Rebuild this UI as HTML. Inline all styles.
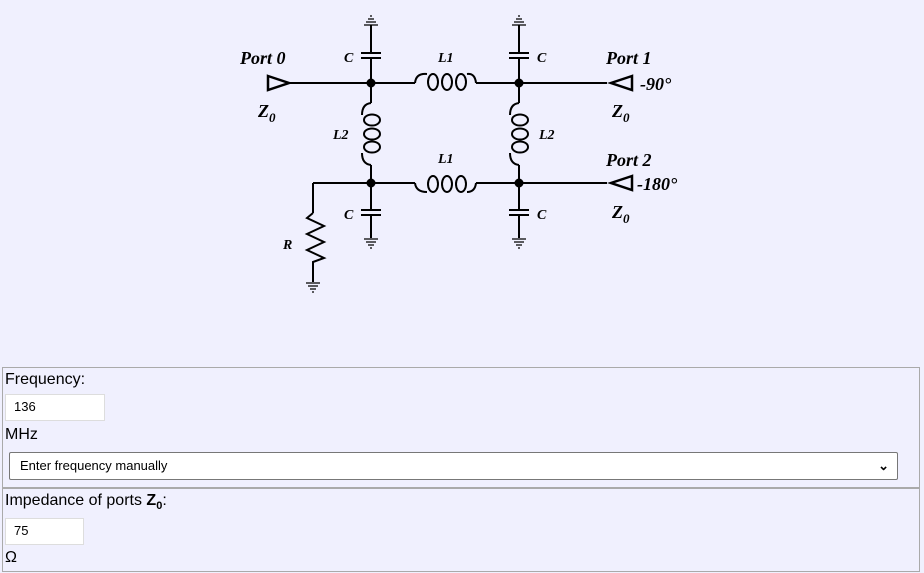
<!DOCTYPE html>
<html><head><meta charset="utf-8"><style>
body{margin:0;background:#f0f0fe;font-family:"Liberation Sans",sans-serif;width:924px;height:573px;overflow:hidden;position:relative}
.p{position:absolute;left:2px;width:916px;border:1px solid #aaa;background:#f0f0fe}
.t{position:absolute;font-size:16px;color:#000}
.in{position:absolute;background:#fff;border:1px solid #ddd;font-size:13px;padding-left:8px;box-sizing:border-box;line-height:24px}
svg text{font-family:"Liberation Serif",serif;font-style:italic;font-weight:bold}
</style></head><body>
<svg width="924" height="360" style="position:absolute;left:0;top:0" fill="none" stroke="#000" stroke-width="2">
<g stroke-width="2">
<line x1="290" y1="83" x2="415" y2="83"/><line x1="476" y1="83" x2="607" y2="83"/>
<line x1="313" y1="183" x2="415" y2="183"/><line x1="476" y1="183" x2="607" y2="183"/>
<path d="M415,83 Q416,73 427,74"/><ellipse cx="433" cy="82" rx="5" ry="8"/><ellipse cx="447" cy="82" rx="5" ry="8"/><ellipse cx="461" cy="82" rx="5" ry="8"/><path d="M467,74 Q475,73 476,83"/>
<path d="M415,183 Q416,192 427,192"/><ellipse cx="433" cy="184" rx="5" ry="8"/><ellipse cx="447" cy="184" rx="5" ry="8"/><ellipse cx="461" cy="184" rx="5" ry="8"/><path d="M467,192 Q475,192 476,183"/>
<g id="col">
<line x1="371" y1="25" x2="371" y2="53"/><line x1="361" y1="53" x2="381" y2="53"/><line x1="361" y1="58" x2="381" y2="58"/>
<line x1="371" y1="58" x2="371" y2="103"/>
<path d="M371,103 Q362,104 362,115"/><ellipse cx="372" cy="120" rx="8" ry="5.5"/><ellipse cx="372" cy="134" rx="8" ry="5.5"/><ellipse cx="372" cy="147" rx="8" ry="5.5"/><path d="M362,153 Q362,164 371,165"/>
<line x1="371" y1="165" x2="371" y2="210"/><line x1="361" y1="210" x2="381" y2="210"/><line x1="361" y1="215" x2="381" y2="215"/>
<line x1="371" y1="215" x2="371" y2="238"/>
<path d="M364,239h14M366,242h10M368,245h6M370,248h2" stroke-width="1.2"/>
<path d="M364,25h14M366,22h10M368,19h6M370,16h2" stroke-width="1.2"/>
<circle cx="371" cy="83" r="3.5" fill="#000"/><circle cx="371" cy="183" r="3.5" fill="#000"/>
</g>
<use href="#col" x="148"/>
<line x1="313" y1="183" x2="313" y2="213"/>
<path d="M313,213 L307,218 L324,226 L307,234 L324,242 L307,250 L324,258 L313,262 L313,282"/>
<path d="M306,283h14M308,286h10M310,289h6M312,292h2" stroke-width="1.2"/>
<path d="M268,76 L289,83 L268,90 Z" stroke-width="2.5"/>
<path d="M632,76 L611,83 L632,90 Z" stroke-width="2.5"/>
<path d="M632,176 L611,183 L632,190 Z" stroke-width="2.5"/>
</g>
<g fill="#000" stroke="none" font-size="18">
<text x="240" y="64">Port 0</text><text x="606" y="64">Port 1</text><text x="606" y="166">Port 2</text>
<text x="640" y="90">-90°</text><text x="637" y="190">-180°</text>
<text x="258" y="117">Z<tspan font-size="13" dy="5">0</tspan></text>
<text x="612" y="117">Z<tspan font-size="13" dy="5">0</tspan></text>
<text x="612" y="218">Z<tspan font-size="13" dy="5">0</tspan></text>
<g font-size="14"><text x="344" y="62">C</text><text x="537" y="62">C</text><text x="344" y="219">C</text><text x="537" y="219">C</text>
<text x="438" y="62">L1</text><text x="438" y="163">L1</text><text x="333" y="139">L2</text><text x="539" y="139">L2</text><text x="283" y="249">R</text></g>
</g>
</svg>
<div class="p" style="top:367px;height:119px"></div>
<div class="p" style="top:488px;height:82px"></div>
<div class="t" style="left:5px;top:371px">Frequency:</div>
<div class="in" style="left:5px;top:394px;width:100px;height:27px">136</div>
<div class="t" style="left:5px;top:426px">MHz</div>
<div class="in" style="left:9px;top:452px;width:889px;height:28px;border:1px solid #777;border-radius:2px;padding-left:10px;line-height:26px">Enter frequency manually<span style="position:absolute;right:8px;font-weight:bold">&#8964;</span></div>
<div class="t" style="left:5px;top:492px">Impedance of ports <b>Z<sub style="font-size:11px">0</sub></b>:</div>
<div class="in" style="left:5px;top:518px;width:79px;height:27px">75</div>
<div class="t" style="left:5px;top:549px">Ω</div>
</body></html>
